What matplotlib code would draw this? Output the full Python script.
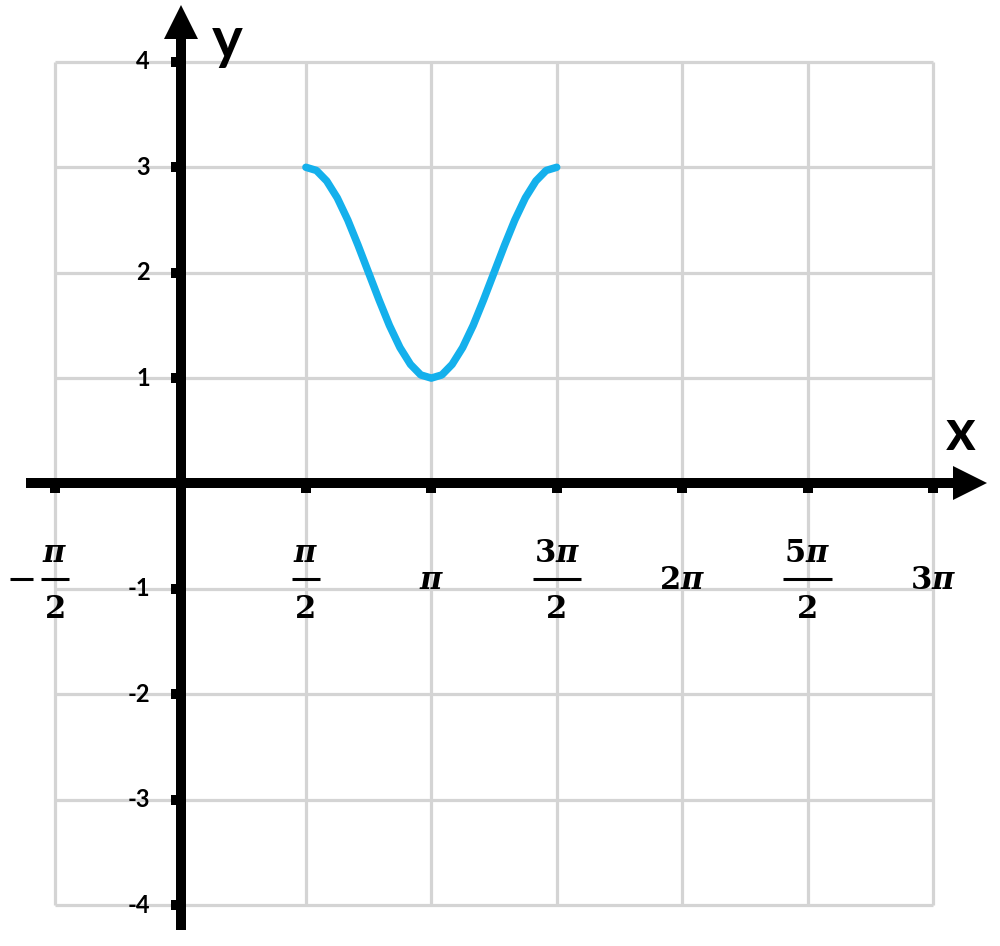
import numpy as np
import matplotlib
matplotlib.use("Agg")
import matplotlib.pyplot as plt

# ---- data ----
curve_x_pi = [0.5, 0.542, 0.583, 0.625, 0.667, 0.708, 0.75, 0.792, 0.833, 0.875,
              0.917, 0.958, 1.0, 1.042, 1.083, 1.125, 1.167, 1.208, 1.25, 1.292,
              1.333, 1.375, 1.417, 1.458, 1.5]
curve_y = [3.00, 2.97, 2.87, 2.71, 2.50, 2.26, 2.00, 1.74, 1.50, 1.29,
           1.13, 1.03, 1.00, 1.03, 1.13, 1.29, 1.50, 1.74, 2.00, 2.26,
           2.50, 2.71, 2.87, 2.97, 3.00]

# x tick labels: (position in multiples of pi, numerator, denominator, sign)
xtick_pi = [-0.5, 0.5, 1.0, 1.5, 2.0, 2.5, 3.0]
xtick_num = [r'$\pi$', r'$\pi$', r'$\pi$', r'$3\pi$', r'$2\pi$', r'$5\pi$', r'$3\pi$']
xtick_den = ['2', '2', None, '2', None, '2', None]
xtick_neg = [True, False, False, False, False, False, False]
ytick_vals = [-4, -3, -2, -1, 1, 2, 3, 4]
ytick_labels = ['-4', '-3', '-2', '-1', '1', '2', '3', '4']
grid_x_pi = [-0.5, 0.0, 0.5, 1.0, 1.5, 2.0, 2.5, 3.0]
grid_y = [-4, -3, -2, -1, 0, 1, 2, 3, 4]

plt.rcParams['mathtext.fontset'] = 'custom'
plt.rcParams['mathtext.rm'] = 'DejaVu Serif:bold'
plt.rcParams['mathtext.it'] = 'DejaVu Serif:italic:bold'
plt.rcParams['mathtext.bf'] = 'DejaVu Serif:bold'

W, H = 1000, 946
fig = plt.figure(figsize=(W / 100, H / 100), dpi=100)
ax = fig.add_axes([0, 0, 1, 1])

# pixel scale: 125.4 px per pi/2, 105.4 px per unit; origin at (180.5, 483.5)
HALF = np.pi / 2
px_x = HALF / 125.4
px_y = 1 / 105.4
ax.set_xlim(-180.5 * px_x, (W - 180.5) * px_x)
ax.set_ylim(-(H - 483.5) * px_y, 483.5 * px_y)


def py(p):
    """figure pixel row -> data y"""
    return (483.5 - p) * px_y


grid_color = '#d4d4d4'
gx = np.array(grid_x_pi) * np.pi
ax.vlines(gx, min(grid_y), max(grid_y), colors=grid_color, lw=2.3, zorder=1)
ax.hlines(grid_y, gx.min(), gx.max(), colors=grid_color, lw=2.3, zorder=1)

# curve
ax.plot(np.array(curve_x_pi) * np.pi, curve_y, color='#14b0ec', lw=5.4,
        solid_capstyle='round', solid_joinstyle='round', zorder=4)

# spines as axes
for s in ['top', 'right']:
    ax.spines[s].set_visible(False)
for s in ['left', 'bottom']:
    ax.spines[s].set_position(('data', 0))
    ax.spines[s].set_linewidth(7.2)
    ax.spines[s].set_capstyle('butt')
    ax.spines[s].set_zorder(5)
ax.spines['left'].set_bounds(py(930), py(30))
ax.spines['bottom'].set_bounds((26 - 180.5) * px_x, (960 - 180.5) * px_x)

# arrow heads
ax.plot([0], [py(22.5)], marker='^', ms=24, color='black',
        mew=0, zorder=6, clip_on=False)
ax.plot([(970 - 180.5) * px_x], [0], marker='>', ms=24, color='black',
        mew=0, zorder=6, clip_on=False)

# ticks
xt = np.array(xtick_pi) * np.pi
ax.set_xticks(xt)
ax.set_xticklabels([''] * len(xt))
ax.set_yticks(ytick_vals)
ax.set_yticklabels(ytick_labels, fontsize=17, fontfamily='Lato', fontweight='bold')
ax.tick_params(axis='x', direction='out', length=7, width=7.2)
ax.tick_params(axis='y', direction='out', length=7, width=7.2, pad=15)
for lbl in ax.get_yticklabels():
    lbl.set_verticalalignment('center')

# x tick labels drawn as stacked fractions
renderer = fig.canvas.get_renderer()
FS = 22
for x, num, den, neg in zip(xt, xtick_num, xtick_den, xtick_neg):
    if den is None:
        ax.text(x, py(589), num, fontsize=FS, ha='center', va='baseline')
        continue
    t = ax.text(x, py(562), num, fontsize=FS, ha='center', va='baseline')
    ax.text(x, py(618), den, fontsize=FS, ha='center', va='baseline',
            fontfamily='DejaVu Serif', fontweight='bold')
    w = t.get_window_extent(renderer).width + 2
    half = w / 2 * px_x
    ax.plot([x - half, x + half], [py(579)] * 2, color='black', lw=2.2,
            solid_capstyle='butt', clip_on=False)
    if neg:
        left = x - half - 8 * px_x
        ax.plot([left - 23 * px_x, left], [py(579)] * 2, color='black', lw=2.2,
                solid_capstyle='butt', clip_on=False)

# axis labels
ax.text((227 - 180.5) * px_x, py(42), 'y', fontsize=42,
        fontfamily='Lato', fontweight='bold', ha='center', va='center')
ax.text((961 - 180.5) * px_x, py(433), 'x', fontsize=41,
        fontfamily='Lato', fontweight='bold', ha='center', va='center')

fig.savefig('out.png', dpi=100)
